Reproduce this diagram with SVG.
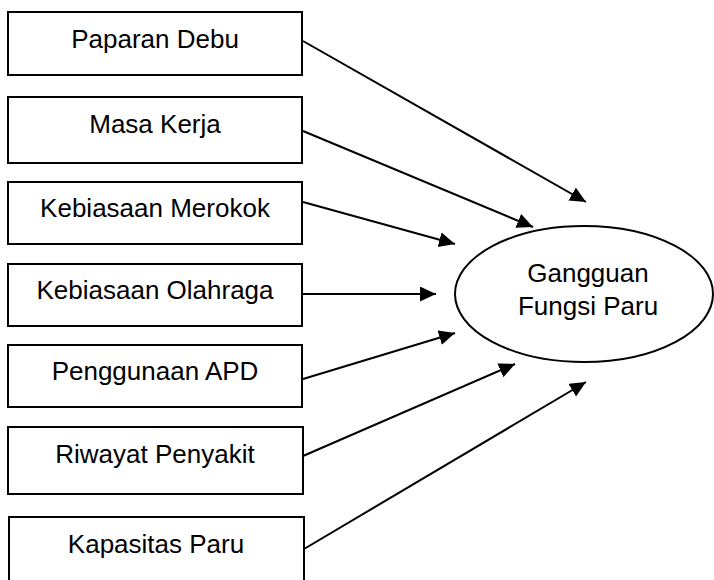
<svg xmlns="http://www.w3.org/2000/svg" width="714" height="580" viewBox="0 0 714 580">
<defs>
<style>
.box{fill:#fff;stroke:#000;stroke-width:2}
.lbl{font-family:"Liberation Sans",Arial,sans-serif;font-size:26px;fill:#000;text-anchor:middle}
.conn line{stroke:#000;stroke-width:2;marker-end:url(#ah)}
</style>
<marker id="ah" markerUnits="userSpaceOnUse" markerWidth="17" markerHeight="16" refX="16" refY="7.5" orient="auto">
<path d="M0,0 L16,7.5 L0,15 z" fill="#000"/>
</marker>
</defs>
<rect width="714" height="580" fill="#fff"/>
<g id="n1"><rect class="box" x="8" y="12" width="294" height="63"/><text class="lbl" x="155" y="48">Paparan Debu</text></g>
<g id="n2"><rect class="box" x="8" y="97" width="294" height="66"/><text class="lbl" x="155" y="133">Masa Kerja</text></g>
<g id="n3"><rect class="box" x="8" y="182" width="294" height="62"/><text class="lbl" x="155" y="217">Kebiasaan Merokok</text></g>
<g id="n4"><rect class="box" x="8" y="264" width="294" height="62"/><text class="lbl" x="155" y="299">Kebiasaan Olahraga</text></g>
<g id="n5"><rect class="box" x="8" y="345" width="294" height="62"/><text class="lbl" x="155" y="380">Penggunaan APD</text></g>
<g id="n6"><rect class="box" x="8" y="427" width="295" height="67"/><text class="lbl" x="155" y="463">Riwayat Penyakit</text></g>
<g id="n7"><rect class="box" x="9" y="517" width="295" height="80"/><text class="lbl" x="156" y="553">Kapasitas Paru</text></g>
<g id="target"><ellipse class="box" cx="584" cy="294" rx="129" ry="68"/><text class="lbl" x="588" y="282">Gangguan</text><text class="lbl" x="588" y="315">Fungsi Paru</text></g>
<g id="connectors" class="conn">
<line x1="303" y1="41" x2="586" y2="202"/>
<line x1="303" y1="131" x2="533" y2="227"/>
<line x1="303" y1="202" x2="455" y2="244"/>
<line x1="303" y1="294" x2="436" y2="294"/>
<line x1="303" y1="379" x2="455" y2="333"/>
<line x1="303" y1="456" x2="515" y2="364"/>
<line x1="304" y1="549" x2="586" y2="382"/>
</g>
</svg>
